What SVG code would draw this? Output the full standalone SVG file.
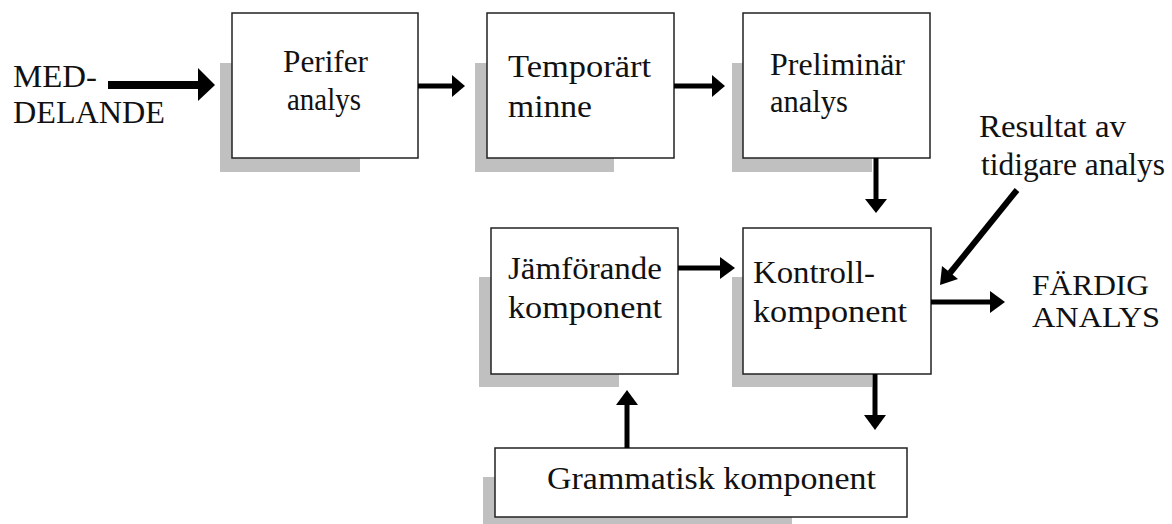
<svg xmlns="http://www.w3.org/2000/svg" width="1172" height="524" viewBox="0 0 1172 524">
<style>
.sh{fill:#c0c0c0}
.bx{fill:#fff;stroke:#222;stroke-width:1.5}
.t{font-family:"Liberation Serif",serif;font-size:32px;fill:#111}
.c{font-size:29px}
.ln{stroke:#000;fill:none}
.hd{fill:#000}
</style>
<rect width="1172" height="524" fill="#fff"/>
<g id="meddelande"><text class="t" x="13" y="87" textLength="84" lengthAdjust="spacingAndGlyphs">MED-</text><text class="t" x="13" y="123" textLength="152" lengthAdjust="spacingAndGlyphs">DELANDE</text></g>
<g id="perifer"><rect class="sh" x="220" y="63" width="140" height="109"/><rect class="bx" x="232" y="13" width="186" height="145"/><text class="t" x="283" y="72" textLength="85" lengthAdjust="spacingAndGlyphs">Perifer</text><text class="t" x="287" y="110" textLength="74" lengthAdjust="spacingAndGlyphs">analys</text></g>
<g id="temporart"><rect class="sh" x="475" y="63" width="139" height="109"/><rect class="bx" x="487" y="13" width="187" height="145"/><text class="t" x="508" y="77" textLength="143" lengthAdjust="spacingAndGlyphs">Temporärt</text><text class="t" x="508" y="117" textLength="84" lengthAdjust="spacingAndGlyphs">minne</text></g>
<g id="preliminar"><rect class="sh" x="732" y="63" width="140" height="109"/><rect class="bx" x="743" y="13" width="187" height="145"/><text class="t" x="770" y="75" textLength="135" lengthAdjust="spacingAndGlyphs">Preliminär</text><text class="t" x="770" y="112" textLength="78" lengthAdjust="spacingAndGlyphs">analys</text></g>
<g id="jamforande"><rect class="sh" x="479" y="277" width="140" height="110"/><rect class="bx" x="491" y="228" width="187" height="146"/><text class="t" x="508" y="279" textLength="154" lengthAdjust="spacingAndGlyphs">Jämförande</text><text class="t" x="508" y="318" textLength="154" lengthAdjust="spacingAndGlyphs">komponent</text></g>
<g id="kontroll"><rect class="sh" x="732" y="277" width="140" height="110"/><rect class="bx" x="743" y="228" width="188" height="146"/><text class="t" x="753" y="283" textLength="122" lengthAdjust="spacingAndGlyphs">Kontroll-</text><text class="t" x="753" y="322" textLength="154" lengthAdjust="spacingAndGlyphs">komponent</text></g>
<g id="grammatisk"><rect class="sh" x="483" y="477" width="309" height="60"/><rect class="bx" x="495" y="448" width="412" height="69"/><text class="t" x="547" y="489" textLength="329" lengthAdjust="spacingAndGlyphs">Grammatisk komponent</text></g>
<g id="resultat"><text class="t" x="979" y="137" textLength="147" lengthAdjust="spacingAndGlyphs">Resultat av</text><text class="t" x="981" y="175" textLength="184" lengthAdjust="spacingAndGlyphs">tidigare analys</text></g>
<g id="fardig"><text class="t c" x="1032" y="295" textLength="117" lengthAdjust="spacingAndGlyphs">FÄRDIG</text><text class="t c" x="1032" y="327" textLength="128" lengthAdjust="spacingAndGlyphs">ANALYS</text></g>
<g id="connectors">
<line class="ln" x1="108" y1="85" x2="200" y2="85" stroke-width="8"/><polygon class="hd" points="198,68 215,85 198,101"/>
<line class="ln" x1="418" y1="86" x2="455" y2="86" stroke-width="5"/><polygon class="hd" points="452,75 465,86 452,97"/>
<line class="ln" x1="674" y1="86" x2="714" y2="86" stroke-width="5"/><polygon class="hd" points="712,75 725,86 712,97"/>
<line class="ln" x1="876" y1="158" x2="876" y2="201" stroke-width="5"/><polygon class="hd" points="865,199 876,213 887,199"/>
<line class="ln" x1="1017" y1="190" x2="950" y2="273" stroke-width="6"/><polygon class="hd" points="958,279 940,285 942,266"/>
<line class="ln" x1="678" y1="268" x2="722" y2="268" stroke-width="5"/><polygon class="hd" points="720,257 735,268 720,279"/>
<line class="ln" x1="931" y1="302" x2="992" y2="302" stroke-width="5"/><polygon class="hd" points="990,291 1005,302 990,313"/>
<line class="ln" x1="875" y1="374" x2="875" y2="417" stroke-width="5"/><polygon class="hd" points="864,415 875,430 886,415"/>
<line class="ln" x1="627" y1="448" x2="627" y2="403" stroke-width="5"/><polygon class="hd" points="616,405 627,390 638,405"/>
</g>
</svg>
